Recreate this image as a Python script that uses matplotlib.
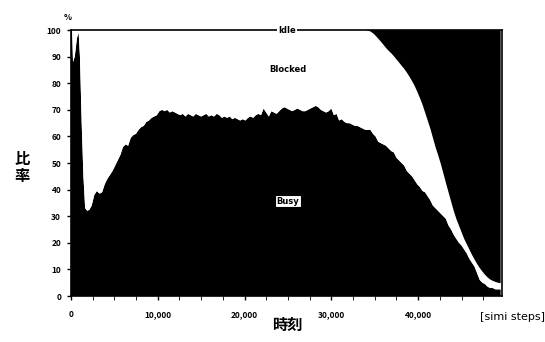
import matplotlib
matplotlib.use("Agg")
import matplotlib.pyplot as plt
import numpy as np

plt.rcParams['font.family'] = ['Noto Sans CJK JP', 'DejaVu Sans']

# simulation steps (x)
steps = [0, 150, 250, 450, 700, 900, 1050, 1250, 1450, 1650, 1900, 2150] + list(range(2400, 49501, 300))

# busy share [%]
busy = [100, 100, 88, 90, 97, 99, 90, 65, 45, 33, 32, 32.5,
        34, 38, 39.5, 38.5, 39, 42, 44, 45.5, 47, 49,
        51, 53, 56, 57, 56.5, 59.5, 60.5, 61, 62.5, 63.5,
        64, 65.5, 66, 67, 67.5, 68, 69.5, 70, 69.5, 70,
        69, 69.5, 69, 68.5, 68, 68.5, 67.5, 68.5, 68, 67.5,
        68.5, 68, 67.5, 68, 68.5, 67.5, 68, 67.5, 68.5, 68,
        67, 67.5, 67, 67.5, 66.5, 67, 66.5, 66, 66.5, 66,
        67, 67.5, 67, 68, 68.5, 68, 70.5, 69, 67.5, 69.5,
        69, 68.5, 69.5, 70.5, 71, 70.5, 70, 69.5, 70, 70.5,
        70, 69.5, 69.5, 70, 70.5, 71, 71.5, 71, 70, 69.5,
        69, 69.5, 70.5, 68, 68.5, 66, 66.5, 65.5, 65, 65,
        64.5, 64, 64, 63.5, 63, 62.5, 62.5, 62.5, 61, 60,
        58, 57.5, 57, 56.5, 55.5, 54.5, 54, 52, 51, 50,
        49, 47, 46, 45, 43.5, 42, 41, 39.5, 39, 37.5,
        36, 34, 33, 32, 31, 30, 29, 26.5, 25, 23,
        21.5, 20, 19, 17.5, 16, 14, 12.5, 11, 8.5, 6,
        5, 4.5, 3.5, 3, 3, 2.5, 2.5, 2.5]

# idle share [%] (zero until ~34,000 steps)
idle = [0.0] * 118 + [
    0.2, 0.5, 1.2, 2.1, 3.2, 4.3, 5.5, 6.7, 7.8, 8.7,
    9.8, 11, 12.2, 13.4, 14.6, 16, 17.5, 19.2, 21, 23.2,
    25.5, 28, 31, 34, 37, 40.5, 44, 47, 50.2, 53.8,
    57.5, 61, 64.5, 68, 71, 73.5, 76, 78.5, 80.5, 82.5,
    84.5, 86.3, 88, 89.5, 90.8, 92, 93, 93.8, 94.3, 94.7,
    95, 95.2]

x = np.array(steps)
b = np.array(busy)
i = np.array(idle)
blocked = 100 - b - i

fig = plt.figure(figsize=(5.45, 3.42), dpi=100)
ax = fig.add_axes([0.130, 0.1345, 0.791, 0.7775])

ax.stackplot(x, b, blocked, i, colors=['black', 'white', 'black'], linewidth=0)

ax.set_xlim(0, 49650)
ax.set_ylim(0, 100)
ax.set_xticks([0, 10000, 20000, 30000, 40000])
ax.set_xticklabels(['0', '10,000', '20,000', '30,000', '40,000'])
ax.set_xticks(np.arange(0, 49650, 2500), minor=True)
ax.set_yticks(range(0, 101, 10))
ax.tick_params(axis='both', labelsize=6, direction='out', length=3, width=1, colors='black')
ax.tick_params(axis='x', which='both', pad=7, length=3)
ax.tick_params(axis='y', pad=4)
for lab in ax.get_xticklabels() + ax.get_yticklabels():
    lab.set_fontweight('bold')
for s in ax.spines.values():
    s.set_linewidth(1.2)

ax.text(24880, 100, 'Idle', fontsize=6, ha='center', va='center', family='DejaVu Sans',
        fontweight='bold', bbox=dict(facecolor='white', edgecolor='none', pad=1))
ax.text(25000, 85, 'Blocked', fontsize=6, ha='center', va='center', family='DejaVu Sans',
        fontweight='bold')
ax.text(25000, 35.7, 'Busy', fontsize=6, ha='center', va='center', family='DejaVu Sans',
        fontweight='bold', bbox=dict(facecolor='white', edgecolor='black', pad=1, linewidth=0.8))

fig.text(0.125, 0.95, '%', fontsize=6, ha='center', va='center', fontweight='bold')
fig.text(0.04, 0.51, '比\n率', fontsize=11, fontweight='bold', ha='center', va='center',
         linespacing=1.1)
fig.text(0.527, 0.05, '時刻', fontsize=11, fontweight='bold', ha='center', va='center')
fig.text(0.94, 0.073, '[simi steps]', fontsize=8, ha='center', va='center', family='DejaVu Sans')

fig.savefig('out.png', dpi=100)
